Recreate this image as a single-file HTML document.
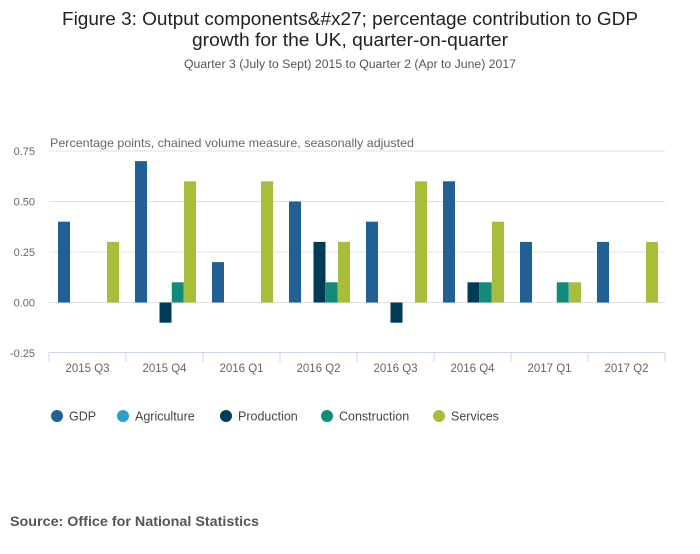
<!DOCTYPE html>
<html><head><meta charset="utf-8"><style>
body{margin:0;background:#fff;font-family:"Liberation Sans",sans-serif;}
svg text{font-family:"Liberation Sans",sans-serif;}
</style></head><body>
<svg id="c" width="700" height="549" xmlns="http://www.w3.org/2000/svg">
<text x="350" y="25" text-anchor="middle" font-size="18" fill="#222" textLength="576" lengthAdjust="spacingAndGlyphs">Figure 3: Output components&amp;#x27; percentage contribution to GDP</text>
<text x="350" y="46" text-anchor="middle" font-size="18" fill="#222" textLength="316" lengthAdjust="spacingAndGlyphs">growth for the UK, quarter-on-quarter</text>
<text x="350" y="68" text-anchor="middle" font-size="11.5" fill="#555" textLength="332" lengthAdjust="spacingAndGlyphs">Quarter 3 (July to Sept) 2015 to Quarter 2 (Apr to June) 2017</text>
<text x="50" y="147" font-size="12" fill="#666" textLength="364" lengthAdjust="spacingAndGlyphs">Percentage points, chained volume measure, seasonally adjusted</text>
<g id="grid"></g><g id="bars"></g><g id="xaxis"></g><g id="legend"></g>
<text x="10" y="526" font-size="14" font-weight="bold" fill="#555" textLength="249" lengthAdjust="spacingAndGlyphs">Source: Office for National Statistics</text>
</svg>
<script>
const categories=["2015 Q3","2015 Q4","2016 Q1","2016 Q2","2016 Q3","2016 Q4","2017 Q1","2017 Q2"];
const seriesNames=["GDP","Agriculture","Production","Construction","Services"];
const gdp=[0.4,0.7,0.2,0.5,0.4,0.6,0.3,0.3];
const agriculture=[0,0,0,0,0,0,0,0];
const production=[0,-0.1,0,0.3,-0.1,0.1,0,0];
const construction=[0,0.1,0,0.1,0,0.1,0.1,0];
const services=[0.3,0.6,0.6,0.3,0.6,0.4,0.1,0.3];
const yTicks=[0.75,0.5,0.25,0,-0.25];
const yTickLabels=["0.75","0.50","0.25","0.00","-0.25"];
const series=[gdp,agriculture,production,construction,services];
const colors=["#206095","#27a0cc","#003c57","#118c7b","#a8bd3a"];
const NS="http://www.w3.org/2000/svg";
const x0=49,x1=665,bw=(x1-x0)/categories.length;
const y=v=>302.5-v*202;
function mk(t,a,p){const e=document.createElementNS(NS,t);for(const k in a)e.setAttribute(k,a[k]);p.appendChild(e);return e;}
const grid=document.getElementById('grid');
yTicks.forEach((v,i)=>{
  if(v>-0.25){const l=mk('line',{x1:x0,x2:x1,y1:y(v),y2:y(v),stroke:'#e0e0e0','stroke-width':1},grid);
  
  }
  const t=mk('text',{x:35,y:y(v)+4,'text-anchor':'end','font-size':11,fill:'#666'},grid);
  t.textContent=yTickLabels[i];
  
  
});
const xa=document.getElementById('xaxis');
const ax=mk('line',{x1:x0,x2:x1,y1:352.5,y2:352.5,stroke:'#ccd6eb','stroke-width':1},xa);


for(let i=0;i<=categories.length;i++){
  const tk=mk('line',{x1:x0+i*bw,x2:x0+i*bw,y1:352,y2:362,stroke:'#ccd6eb'},xa);
  
  
}
categories.forEach((c,i)=>{
  const t=mk('text',{x:x0+(i+0.5)*bw,y:372,'text-anchor':'middle','font-size':11.5,fill:'#666'},xa);
  t.textContent=c;
  
  
});
const bars=document.getElementById('bars');
const slot=12.25;
series.forEach((s,si)=>{
  s.forEach((v,i)=>{
    if(v===0)return;
    const bx=x0+i*bw+9+si*slot;
    const r=mk('rect',{x:bx,y:Math.min(y(v),y(0)),width:12,height:Math.abs(y(v)-y(0)),fill:colors[si]},bars);
    
    
  });
});
const lg=document.getElementById('legend');
const lx=[57,123,226,327,439];
seriesNames.forEach((n,i)=>{
  const g=mk('g',{},lg);
  
  
  mk('circle',{cx:lx[i],cy:416,r:6,fill:colors[i]},g);
  const t=mk('text',{x:lx[i]+12,y:420.5,'font-size':12.5,fill:'#444'},g);
  t.textContent=n;
});
</script>
</body></html>
